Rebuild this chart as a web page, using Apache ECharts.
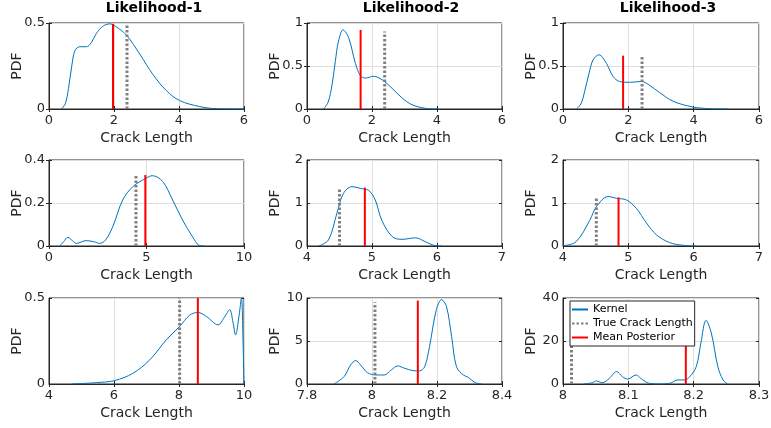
<!DOCTYPE html>
<html><head><meta charset="utf-8">
<script src="https://cdn.jsdelivr.net/npm/echarts@6.0.0/dist/echarts.min.js"></script>
<style>html,body{margin:0;padding:0;background:#fff}#c{width:771px;height:428px}</style>
</head><body><div id="c"></div>
<script>
// ---- data ----
const titles = ['Likelihood-1', 'Likelihood-2', 'Likelihood-3'];
const xMin = [0, 0, 0, 0, 4, 4, 4, 7.8, 8];
const xMax = [6, 6, 6, 10, 7, 7, 10, 8.4, 8.3];
const xStep = [2, 2, 2, 5, 1, 1, 2, 0.2, 0.1];
const yMax = [0.5, 1, 1, 0.4, 2, 2, 0.5, 10, 40];
const yStep = [0.5, 0.5, 0.5, 0.2, 1, 1, 0.5, 5, 20];

const k1x = [0.38,0.5,0.6,0.7,0.8,0.95,1.15,1.3,1.46,1.65,1.87,2.05,2.38,2.79,3.2,3.61,4.02,4.64,5.15,6.0];
const k1y = [0,0.03,0.12,0.25,0.34,0.362,0.362,0.385,0.44,0.48,0.495,0.48,0.43,0.32,0.2,0.107,0.049,0.014,0.002,0];
const k2x = [0.51,0.65,0.77,0.87,0.97,1.11,1.28,1.49,1.64,1.79,2.05,2.31,2.62,2.92,3.23,3.64,4.0];
const k2y = [0,0.08,0.28,0.55,0.79,0.92,0.83,0.53,0.39,0.36,0.38,0.34,0.24,0.13,0.05,0.008,0];
const k3x = [0.41,0.55,0.66,0.8,0.92,1.1,1.33,1.53,1.73,2.04,2.4,2.65,2.96,3.37,3.98,4.5,5.05];
const k3y = [0,0.06,0.2,0.42,0.57,0.63,0.53,0.38,0.32,0.31,0.32,0.275,0.19,0.09,0.023,0.004,0];
const k4x = [0.55,0.75,0.97,1.2,1.4,1.9,2.3,2.6,2.9,3.27,3.78,4.3,4.97,5.3,5.83,6.34,6.85,7.36,7.7,7.96];
const k4y = [0,0.02,0.04,0.025,0.012,0.025,0.02,0.012,0.028,0.09,0.214,0.276,0.315,0.327,0.3,0.214,0.121,0.043,0.003,0];
const k5x = [4.18,4.33,4.46,4.56,4.69,4.82,4.95,5.05,5.15,5.31,5.46,5.67,5.82,5.97,6.08];
const k5y = [0,0.14,0.76,1.22,1.38,1.34,1.29,1.07,0.6,0.22,0.155,0.19,0.1,0.01,0];
const k6x = [4.0,4.2,4.41,4.51,4.69,4.82,4.97,5.12,5.28,5.43,5.63,5.84,6.04];
const k6y = [0.005,0.1,0.6,0.91,1.15,1.11,1.07,0.88,0.53,0.26,0.08,0.015,0];
const k7x = [4.69,5.46,6.02,6.58,7.1,7.61,8.02,8.33,8.58,8.84,9.2,9.4,9.56,9.66,9.74,9.85,9.92,9.97,10];
const k7y = [0,0.008,0.02,0.062,0.14,0.257,0.335,0.4,0.416,0.393,0.344,0.389,0.432,0.36,0.286,0.4,0.5,0.25,0];
const k8x = [7.883,7.914,7.934,7.95,7.965,7.986,8.012,8.038,8.059,8.079,8.1,8.126,8.146,8.162,8.177,8.198,8.214,8.229,8.245,8.26,8.281,8.296,8.317,8.338];
const k8y = [0,0.86,2.2,2.72,2.2,1.32,1.05,1.05,1.63,2.1,1.83,1.56,1.52,2.0,4.36,8.64,9.8,9.03,5.5,2.0,1.05,0.78,0.16,0];
const k9x = [8.032,8.045,8.051,8.06,8.071,8.082,8.091,8.099,8.112,8.119,8.132,8.147,8.163,8.176,8.186,8.194,8.204,8.211,8.219,8.227,8.237,8.245,8.252];
const k9y = [0,0.6,1.4,0.6,2.6,5.8,3.4,2.3,4.2,2.6,0.3,0,0.3,1.9,1.9,3.4,8.1,19,29.6,23.7,8.1,1.9,0];

const trueLen = [2.4, 2.39, 2.42, 4.46, 4.5, 4.51, 8.02, 8.009, 8.013];
const trueTop = [0.49, 0.9, 0.62, 0.33, 1.36, 1.13, 0.5, 9.5, 29.6];
const meanPost = [1.97, 1.65, 1.84, 4.94, 4.89, 4.85, 8.58, 8.141, 8.188];
const meanTop = [0.495, 0.92, 0.62, 0.33, 1.36, 1.13, 0.5, 9.7, 29.6];

const legendNames = ['Kernel', 'True Crack Length', 'Mean Posterior'];
const xName = 'Crack Length';
const yName = 'PDF';

// ---- layout / style ----
const KX = [k1x,k2x,k3x,k4x,k5x,k6x,k7x,k8x,k9x];
const KY = [k1y,k2y,k3y,k4y,k5y,k6y,k7y,k8y,k9y];
const colLeft = [49, 307, 563];
const colW = [195, 195, 196];
const rowTop = [23, 160, 298];
const rowH = 86;
const FONT = 'DejaVu Sans';
const TXT = '#262626';
const AX = '#262626';

const grids = [], xAxes = [], yAxes = [], series = [];
for (let i = 0; i < 9; i++) {
  const r = Math.floor(i / 3), c = i % 3;
  grids.push({left: colLeft[c], top: rowTop[r], width: colW[c], height: rowH,
    show: true, borderColor: AX, borderWidth: 1, containLabel: false, outerBoundsMode: 'none'});
  const tick = {show: true, inside: true, length: 3, lineStyle: {color: AX}};
  xAxes.push({gridIndex: i, type: 'value', min: xMin[i], max: xMax[i], interval: xStep[i], position: 'bottom',
    name: xName, nameLocation: 'middle', nameGap: 22, nameMoveOverlap: false,
    nameTextStyle: {fontFamily: FONT, fontSize: 14, color: TXT},
    axisLine: {show: true, onZero: false, lineStyle: {color: AX}},
    axisTick: tick,
    axisLabel: {fontFamily: FONT, fontSize: 13, color: TXT, margin: 5},
    splitLine: {show: true, lineStyle: {color: '#dedede'}}});
  xAxes.push({gridIndex: i, type: 'value', min: xMin[i], max: xMax[i], interval: xStep[i], position: 'top',
    axisLine: {show: false}, axisTick: tick, axisLabel: {show: false}, splitLine: {show: false}});
  yAxes.push({gridIndex: i, type: 'value', min: 0, max: yMax[i], interval: yStep[i], position: 'left',
    name: yName, nameLocation: 'middle', nameGap: 25, nameRotate: 90, nameMoveOverlap: false,
    nameTextStyle: {fontFamily: FONT, fontSize: 14, color: TXT},
    axisLine: {show: true, onZero: false, lineStyle: {color: AX}},
    axisTick: tick,
    axisLabel: {fontFamily: FONT, fontSize: 13, color: TXT, margin: 4},
    splitLine: {show: true, lineStyle: {color: '#dedede'}}});
  yAxes.push({gridIndex: i, type: 'value', min: 0, max: yMax[i], interval: yStep[i], position: 'right',
    axisLine: {show: false}, axisTick: tick, axisLabel: {show: false}, splitLine: {show: false}});

  series.push({name: legendNames[0], type: 'line', xAxisIndex: 2*i, yAxisIndex: 2*i,
    data: KX[i].map((x, j) => [x, KY[i][j]]), smooth: 0.35, symbol: 'none',
    lineStyle: {color: '#0072BD', width: 1}, itemStyle: {color: '#0072BD'}});
  series.push({name: legendNames[1], type: 'line', xAxisIndex: 2*i, yAxisIndex: 2*i,
    data: [[trueLen[i], 0], [trueLen[i], trueTop[i]]], symbol: 'none',
    lineStyle: {color: '#808080', width: 3, type: [2.5, 2]}, itemStyle: {color: '#808080'}});
  series.push({name: legendNames[2], type: 'line', xAxisIndex: 2*i, yAxisIndex: 2*i,
    data: [[meanPost[i], 0], [meanPost[i], meanTop[i]]], symbol: 'none',
    lineStyle: {color: '#FF0000', width: 2}, itemStyle: {color: '#FF0000'}});
}

const titleCenters = [154, 411, 668];
const option = {
  animation: false,
  backgroundColor: '#fff',
  title: titles.map((t, k) => ({text: t, left: titleCenters[k], top: 1, textAlign: 'center', padding: 0,
    textStyle: {fontFamily: FONT, fontSize: 14, fontWeight: 'bold', color: '#000'}})),
  legend: {data: legendNames, orient: 'vertical', left: 570, top: 301, backgroundColor: '#fff',
    borderColor: AX, borderWidth: 1, borderRadius: 0, padding: [3, 2, 3, 1], itemGap: 3,
    itemWidth: 16, itemHeight: 12, selectedMode: false,
    itemStyle: {opacity: 0},
    textStyle: {fontFamily: FONT, fontSize: 11, color: '#000'}},
  grid: grids, xAxis: xAxes, yAxis: yAxes, series: series
};
const chart = echarts.init(document.getElementById('c'), null, {renderer: 'canvas'});
chart.setOption(option);
</script></body></html>
